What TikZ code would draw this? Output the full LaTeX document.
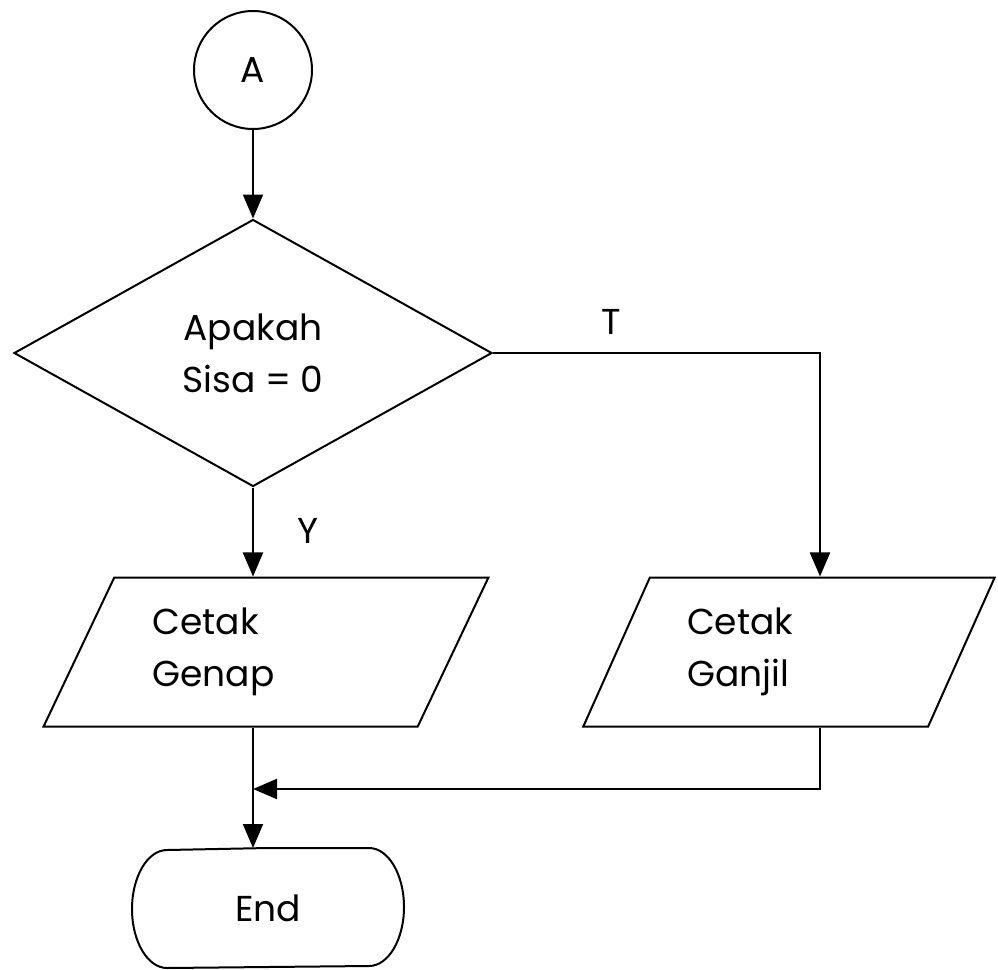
\documentclass[tikz,border=0pt]{standalone}
\usepackage{fontspec}
\setmainfont{Poppins}
\usetikzlibrary{shapes.geometric,arrows.meta}

\begin{document}
\begin{tikzpicture}[x=1pt,y=-1pt,line width=2pt,
  every node/.style={font=\fontsize{36}{52}\selectfont},
  panah/.style={-{Triangle[length=24pt,width=20pt]}},
  konektor/.style={draw,circle,minimum size=118pt,inner sep=0pt},
  keputusan/.style={draw,diamond,aspect=1.8,minimum width=478pt,minimum height=267pt,inner sep=0pt,align=center},
  cetak/.style={draw,trapezium,trapezium stretches=true,minimum height=149pt,inner sep=0pt,align=left}]
\useasboundingbox (0,0) rectangle (998,969);
% simbol
\node[konektor] (a) at (253,70) {A};
\node[keputusan] (sisa) at (253,353) {Apakah\\Sisa = 0};
\node[cetak,trapezium left angle=59,trapezium right angle=121,minimum width=447pt,text width=227pt] (genap) at (266,652) {Cetak\\Genap};
\node[cetak,trapezium left angle=61,trapezium right angle=119,minimum width=412pt,text width=204pt] (ganjil) at (789,652) {Cetak\\Ganjil};
\node[minimum width=200pt,minimum height=118pt,inner sep=0pt] (selesai) at (268,908) {End};
\draw (selesai.north) -- (selesai.north east) arc[start angle=90,end angle=-90,x radius=35pt,y radius=59pt]
  -- (selesai.south west) arc[start angle=270,end angle=90,x radius=35pt,y radius=59pt] -- cycle;
% titik bantu
\coordinate (belok) at (820,353);
\coordinate (gabung) at (253,789);
% panah
\draw[panah] (a) -- (sisa.north);
\draw[panah] (sisa.east) -- (belok) -- (belok |- ganjil.north);
\draw[panah] (sisa.south) -- (sisa.south |- genap.north);
\draw[panah] (belok |- ganjil.south) |- (gabung);
\draw[panah] (sisa.south |- genap.south) -- (sisa.south |- selesai.north);
% label
\node (t) at (611,322) {T};
\node (y) at (308,531) {Y};
\end{tikzpicture}
\end{document}
